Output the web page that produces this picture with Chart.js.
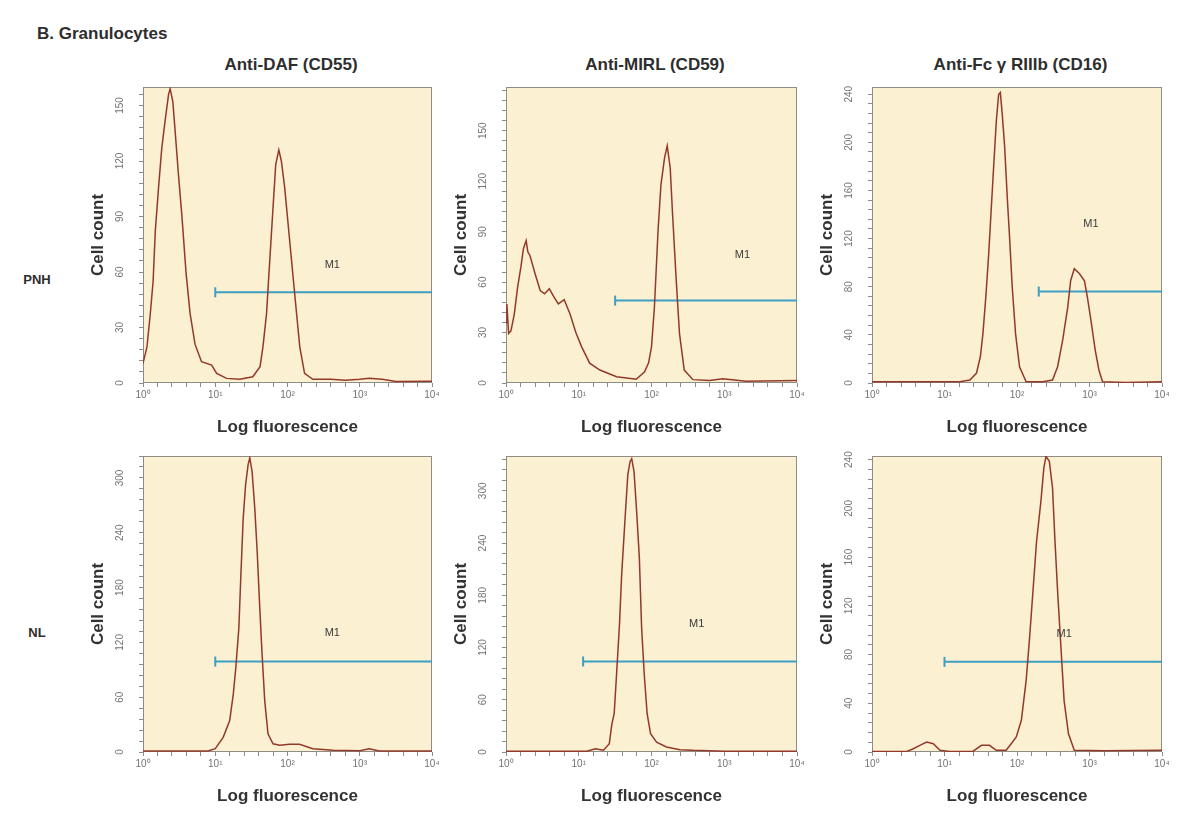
<!DOCTYPE html>
<html>
<head>
<meta charset="utf-8">
<script src="https://cdn.jsdelivr.net/npm/chart.js@4.4.1/dist/chart.umd.min.js"></script>
<style>
  body { margin: 0; background: #fff; }
  #page { position: relative; width: 1183px; height: 813px; overflow: hidden;
          font-family: 'Liberation Sans', Arial, sans-serif; color: #2e2e2e; }
  .lbl { position: absolute; font-weight: bold; white-space: nowrap; }
  canvas { position: absolute; }
</style>
</head>
<body>
<div id="page"></div>
<script>
// --- DATA (x in decades of log fluorescence, y in cell count) ---
const decadeLabels = ['10⁰', '10¹', '10²', '10³', '10⁴'];
const columnTitles = ['Anti-DAF (CD55)', 'Anti-MIRL (CD59)', 'Anti-Fc γ RIIIb (CD16)'];
const rowLabels = ['PNH', 'NL'];

const pnhDafX = [0, 0.055, 0.10, 0.14, 0.17, 0.216, 0.26, 0.31, 0.354, 0.376, 0.413, 0.445, 0.49, 0.537, 0.597, 0.652, 0.72, 0.81, 0.95, 1.02, 1.157, 1.34, 1.52, 1.62, 1.66, 1.71, 1.754, 1.80, 1.837, 1.88, 1.915, 1.96, 2.03, 2.10, 2.17, 2.236, 2.35, 2.6, 2.8, 3.0, 3.13, 3.31, 3.5, 4.0];
const pnhDafY = [10.6, 19.5, 37, 55, 82, 106, 127, 143, 156, 159, 152, 136, 113, 91, 59, 37.5, 21, 11.5, 9.7, 5.2, 2.5, 2, 3.4, 8.8, 19.5, 37.5, 66, 95, 118, 126, 120, 106, 77, 48, 19.5, 5.2, 2, 2, 1.5, 2, 2.5, 2, 0.8, 1];

const pnhMirlX = [0, 0.012, 0.036, 0.068, 0.114, 0.16, 0.205, 0.24, 0.277, 0.30, 0.33, 0.40, 0.47, 0.53, 0.596, 0.66, 0.72, 0.80, 0.88, 0.96, 1.04, 1.15, 1.29, 1.52, 1.79, 1.905, 1.96, 2.0, 2.04, 2.09, 2.13, 2.18, 2.216, 2.257, 2.29, 2.34, 2.385, 2.45, 2.57, 2.8, 2.98, 3.3, 4.0];
const pnhMirlY = [36, 47, 29.5, 31, 41, 57, 69, 80, 84.6, 78, 75.7, 65, 55, 53, 56, 51, 47, 49.5, 41, 30, 21.5, 11.8, 7.7, 3.7, 2.2, 6.7, 12, 21.5, 45, 90.5, 118, 134, 141, 128, 100, 61, 29.4, 7.7, 2, 1.5, 2.5, 1, 1.5];

const pnhFcX = [0, 1.21, 1.35, 1.44, 1.495, 1.53, 1.57, 1.61, 1.646, 1.68, 1.715, 1.747, 1.77, 1.797, 1.83, 1.866, 1.90, 1.934, 1.98, 2.035, 2.126, 2.355, 2.49, 2.56, 2.63, 2.70, 2.74, 2.79, 2.86, 2.93, 2.97, 3.02, 3.08, 3.13, 3.18, 3.5, 4.0];
const pnhFcY = [1, 1, 2.5, 8, 22, 41, 71.5, 107.5, 146, 182, 218, 240, 241.4, 223, 196, 154, 118.5, 80, 41, 13.5, 1, 1, 2.5, 13.5, 35.6, 63, 85, 95, 91, 85, 71.5, 52, 27, 10.8, 1, 0.5, 1];

const nlDafX = [0, 0.9, 1.0, 1.11, 1.20, 1.25, 1.285, 1.327, 1.355, 1.387, 1.42, 1.455, 1.478, 1.51, 1.547, 1.58, 1.616, 1.648, 1.685, 1.73, 1.80, 1.89, 2.03, 2.167, 2.35, 2.63, 3.0, 3.13, 3.27, 4.0];
const nlDafY = [1, 1, 3.6, 16, 34.5, 63.6, 92.7, 136, 194.5, 256, 292.7, 314.5, 322, 307, 267, 220, 158, 107, 56, 20, 9, 7.3, 8.4, 8.4, 3.6, 1.8, 1.5, 3.6, 1, 1];

const nlMirlX = [0, 1.11, 1.23, 1.34, 1.42, 1.455, 1.487, 1.52, 1.56, 1.59, 1.637, 1.674, 1.705, 1.728, 1.76, 1.796, 1.833, 1.864, 1.90, 1.94, 1.987, 2.07, 2.205, 2.39, 2.57, 3.0, 4.0];
const nlMirlY = [1, 1, 3.8, 2, 9.5, 32, 44, 89.6, 146.7, 204, 268.7, 318, 333.5, 337, 322, 276, 223, 143, 89.6, 44, 21, 11.4, 5.7, 2.7, 1.9, 1, 1];

const nlFcX = [0, 0.48, 0.57, 0.66, 0.754, 0.846, 0.937, 1.07, 1.39, 1.51, 1.62, 1.715, 1.85, 1.92, 1.99, 2.06, 2.126, 2.17, 2.22, 2.27, 2.33, 2.37, 2.40, 2.446, 2.49, 2.524, 2.56, 2.606, 2.65, 2.71, 2.79, 3.2, 4.0];
const nlFcY = [0.5, 0.5, 2.7, 5.5, 8.2, 6.8, 1.4, 0.5, 0.5, 5.5, 5.5, 1.4, 1.4, 6.8, 12.3, 26, 58.6, 91, 132, 173, 206, 233, 242.7, 238.6, 216.8, 173, 132, 86, 42, 15, 1.4, 1, 1.5];

// M1 gate: start decade, level, label position
const gateStart = [1.0, 1.5, 2.3, 1.0, 1.06, 1.0];
const gateLevel = [49, 49, 76, 99, 104, 74];
const gateLabelX = [2.62, 3.25, 3.02, 2.62, 2.62, 2.65];
const gateLabelY = [64, 76, 132, 130, 147, 97];

// y axis ranges and tick steps
const yMax = [160, 176, 246, 324, 340, 243];
const yMajor = [30, 30, 40, 60, 60, 40];
const yMinor = [6, 6, 8, 12, 12, 8];

const curveX = [pnhDafX, pnhMirlX, pnhFcX, nlDafX, nlMirlX, nlFcX];
const curveY = [pnhDafY, pnhMirlY, pnhFcY, nlDafY, nlMirlY, nlFcY];

// --- LAYOUT & STYLE ---
const plotLeft = [143, 506, 872];
const plotWidth = [290, 292, 291];
const plotTop = [86, 455];
const plotHeight = 297;
const rowLabelY = [280, 633];
const Y_AXIS_W = 55, X_AXIS_H = 55, PAD = 6;

const PLOT_BG = '#fbf0d1';
const CURVE = '#93392b';
const GATE = '#3c9fc3';
const AXIS = '#8d8d85';
const TICK = '#737373';
const TITLE = '#333333';

Chart.defaults.font.family = "'Liberation Sans', Arial, sans-serif";

const page = document.getElementById('page');

function addLabel(text, style) {
    const div = document.createElement('div');
    div.className = 'lbl';
    div.textContent = text;
    Object.assign(div.style, style);
    page.appendChild(div);
}

addLabel('B. Granulocytes', { left: '37px', top: '24px', fontSize: '17px', lineHeight: '20px' });
columnTitles.forEach((t, c) => {
    addLabel(t, { left: (plotLeft[c] + plotWidth[c] / 2 + 3) + 'px', top: '55px', fontSize: '17px',
                  lineHeight: '20px', transform: 'translateX(-50%)' });
});
rowLabels.forEach((t, r) => {
    addLabel(t, { left: '37px', top: (rowLabelY[r] - 10) + 'px', fontSize: '13px',
                  lineHeight: '20px', transform: 'translateX(-50%)' });
});

// background, frame and gate label
const panelDecor = {
    id: 'panelDecor',
    beforeDraw(chart) {
        const { ctx, chartArea: a } = chart;
        ctx.save();
        ctx.fillStyle = PLOT_BG;
        ctx.fillRect(a.left, a.top, a.right - a.left, a.bottom - a.top);
        ctx.restore();
    },
    beforeDatasetsDraw(chart) {
        const { ctx, chartArea: a } = chart;
        ctx.save();
        ctx.strokeStyle = AXIS;
        ctx.lineWidth = 1;
        ctx.strokeRect(a.left + 0.5, a.top + 0.5, a.right - a.left - 1, a.bottom - a.top - 1);
        ctx.restore();
    },
    afterDatasetsDraw(chart, args, opts) {
        const { ctx, scales } = chart;
        ctx.save();
        ctx.fillStyle = '#3a3a3a';
        ctx.font = "11px 'Liberation Sans', Arial, sans-serif";
        ctx.textAlign = 'center';
        ctx.textBaseline = 'middle';
        ctx.fillText('M1', scales.x.getPixelForValue(opts.labelX), scales.y.getPixelForValue(opts.labelY));
        ctx.restore();
    }
};

// keep the plot box at a fixed size: no extra room for overhanging labels
function fixBox(s, w, h) {
    if (w != null) s.width = w;
    if (h != null) s.height = h;
    s.paddingTop = 0; s.paddingBottom = 0; s.paddingLeft = 0; s.paddingRight = 0;
}

function makePanel(k) {
    const col = k % 3, row = Math.floor(k / 3);
    const canvas = document.createElement('canvas');
    canvas.width = Y_AXIS_W + plotWidth[col] + PAD;
    canvas.height = PAD + plotHeight + X_AXIS_H;
    canvas.style.left = (plotLeft[col] - Y_AXIS_W) + 'px';
    canvas.style.top = (plotTop[row] - PAD) + 'px';
    page.appendChild(canvas);

    new Chart(canvas, {
        type: 'line',
        data: {
            datasets: [{
                data: curveX[k].map((x, i) => ({ x, y: curveY[k][i] })),
                borderColor: CURVE,
                borderWidth: 1.5,
                pointRadius: 0,
                tension: 0,
                fill: false
            }, {
                data: [{ x: gateStart[k], y: gateLevel[k] }, { x: 4, y: gateLevel[k] }],
                borderColor: GATE,
                borderWidth: 2,
                pointStyle: 'line',
                pointRotation: 90,
                pointRadius: [5, 0],
                pointBorderColor: GATE,
                pointBorderWidth: 2,
                fill: false
            }]
        },
        options: {
            responsive: false,
            animation: false,
            events: [],
            layout: { padding: { top: PAD, right: PAD, left: 0, bottom: 0 } },
            plugins: {
                legend: { display: false },
                tooltip: { enabled: false },
                panelDecor: { labelX: gateLabelX[k], labelY: gateLabelY[k] }
            },
            scales: {
                x: {
                    type: 'linear', min: 0, max: 4,
                    afterBuildTicks: s => {
                        const t = [];
                        for (let i = 0; i <= 20; i++) t.push({ value: i / 5 });
                        s.ticks = t;
                    },
                    afterFit: s => fixBox(s, null, X_AXIS_H),
                    grid: { drawOnChartArea: false, tickLength: 4, color: AXIS },
                    border: { display: false },
                    ticks: {
                        autoSkip: false, maxRotation: 0, padding: 2, color: TICK, font: { size: 10 },
                        callback: v => Number.isInteger(v) ? decadeLabels[v] : ''
                    },
                    title: { display: true, text: 'Log fluorescence', color: TITLE, padding: 0,
                             font: { size: 17, weight: 'bold' } }
                },
                y: {
                    type: 'linear', min: 0, max: yMax[k],
                    afterBuildTicks: s => {
                        const t = [];
                        for (let v = 0; v <= yMax[k]; v += yMinor[k]) t.push({ value: v });
                        s.ticks = t;
                    },
                    afterFit: s => fixBox(s, Y_AXIS_W, null),
                    grid: { drawOnChartArea: false, tickLength: 4, color: AXIS },
                    border: { display: false },
                    ticks: {
                        autoSkip: false, minRotation: 90, maxRotation: 90, crossAlign: 'center',
                        padding: 10, color: TICK, font: { size: 10 },
                        callback: v => v % yMajor[k] === 0 ? String(v) : ''
                    },
                    title: { display: true, text: 'Cell count', color: TITLE, padding: 0,
                             font: { size: 17, weight: 'bold' } }
                }
            }
        },
        plugins: [panelDecor]
    });
}

for (let k = 0; k < 6; k++) makePanel(k);
</script>
</body>
</html>
